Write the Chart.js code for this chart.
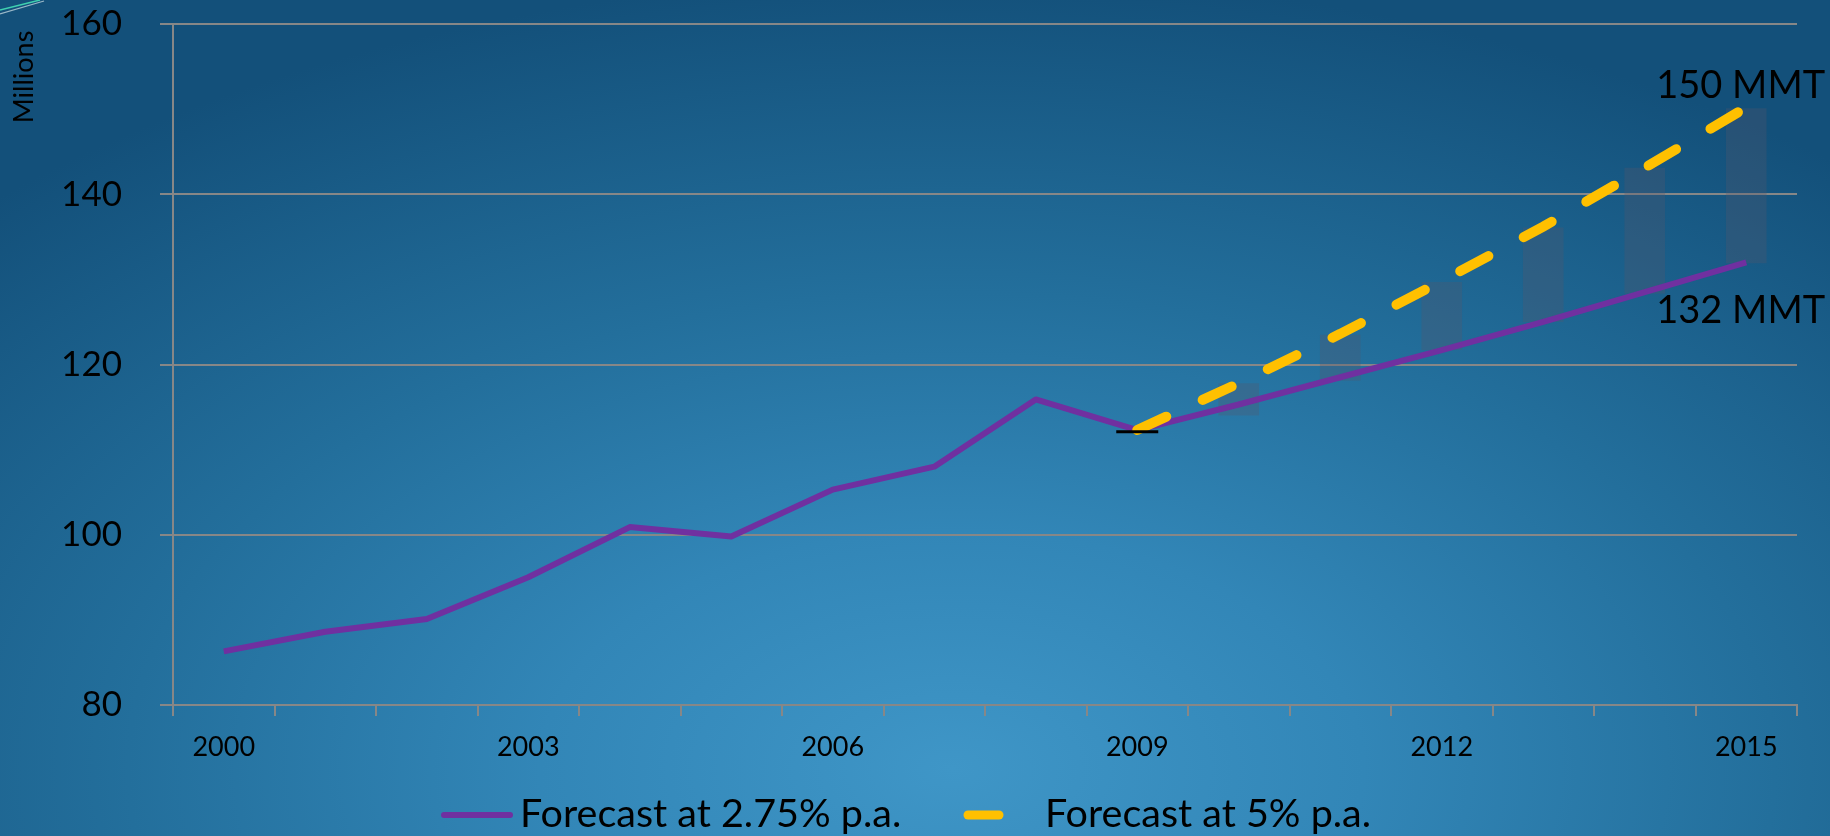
<!DOCTYPE html>
<html>
<head>
<meta charset="utf-8">
<script src="https://cdn.jsdelivr.net/npm/chart.js@4.4.1/dist/chart.umd.min.js"></script>
<style>
  html, body { margin: 0; padding: 0; }
  body {
    width: 1830px; height: 836px; overflow: hidden; position: relative;
    background: radial-gradient(ellipse 75% 95% at 52% 92%, #3f96c7 0%, #3286b7 30%, #236f9c 60%, #13507a 100%);
  }
  #c { position: absolute; left: 0; top: 0; }
  #deco { position: absolute; left: 0; top: 0; }
</style>
</head>
<body>
<svg id="deco" width="60" height="20">
  <line x1="0" y1="10" x2="40" y2="0" stroke="#3fd0b0" stroke-width="1.5"/>
  <line x1="0" y1="14" x2="44" y2="1" stroke="#9ab8c8" stroke-width="1.2"/>
</svg>
<canvas id="c" width="1830" height="836"></canvas>
<script>
// ---- data ----
const years = ['2000','2001','2002','2003','2004','2005','2006','2007','2008','2009','2010','2011','2012','2013','2014','2015'];
const forecastLow = [86.3, 88.6, 90.1, 95.0, 100.9, 99.8, 105.3, 108.0, 115.9, 112.3, 115.3, 118.5, 121.7, 125.0, 128.5, 132.0];
const forecastHigh = [null, null, null, null, null, null, null, null, null, 112.3, 117.8, 123.6, 129.8, 136.2, 143.1, 150.2];
const gapLow = [null, null, null, null, null, null, null, null, null, null, 114.0, 118.1, 121.7, 125.0, 128.3, 131.9];
const gapHigh = [null, null, null, null, null, null, null, null, null, null, 117.8, 123.5, 129.7, 136.1, 143.1, 150.1];
const baseMark = [null, null, null, null, null, null, null, null, null, 112.1, null, null, null, null, null, null];
const yMin = 80, yMax = 160, yStep = 20;
const labelEvery = 3;
const legendLabels = ['Forecast at 2.75% p.a.', 'Forecast at 5% p.a.'];
const endLabels = ['150 MMT', '132 MMT'];

const PURPLE = '#7030a0';
const GOLD = '#ffc000';
const GRID = '#878787';
const FONT = 'Lato';

const gapData = years.map((_, i) => gapLow[i] == null ? null : [gapLow[i], gapHigh[i]]);

const extrasPlugin = {
  id: 'extras',
  afterDraw(chart) {
    const ctx = chart.ctx;
    const xs = chart.scales.x, ys = chart.scales.y;
    ctx.save();
    ctx.fillStyle = '#000';
    // y-axis unit label
    ctx.save();
    ctx.translate(24, 77);
    ctx.rotate(-Math.PI / 2);
    ctx.font = '27px ' + FONT;
    ctx.textAlign = 'center';
    ctx.textBaseline = 'middle';
    ctx.fillText('Millions', 0, 0);
    ctx.restore();
    // end labels
    const xEnd = xs.getPixelForValue(years.length - 1);
    ctx.font = '38px ' + FONT;
    ctx.textAlign = 'left';
    ctx.textBaseline = 'middle';
    ctx.fillText(endLabels[0], xEnd - 90, ys.getPixelForValue(forecastHigh[forecastHigh.length - 1]) - 22);
    ctx.fillText(endLabels[1], xEnd - 90, ys.getPixelForValue(forecastLow[forecastLow.length - 1]) + 48);
    // legend
    const baseY = 827;
    ctx.lineCap = 'round';
    ctx.strokeStyle = PURPLE;
    ctx.lineWidth = 6;
    ctx.beginPath(); ctx.moveTo(444, 815); ctx.lineTo(510, 815); ctx.stroke();
    ctx.strokeStyle = GOLD;
    ctx.lineWidth = 9;
    ctx.beginPath(); ctx.moveTo(968, 815); ctx.lineTo(999, 815); ctx.stroke();
    ctx.font = '39.5px ' + FONT;
    ctx.textBaseline = 'alphabetic';
    ctx.fillText(legendLabels[0], 520, baseY);
    ctx.fillText(legendLabels[1], 1045, baseY);
    ctx.restore();
  }
};

function build() {
  Chart.defaults.font.family = FONT;
  Chart.defaults.color = '#000';
  new Chart(document.getElementById('c'), {
    type: 'bar',
    data: {
      labels: years,
      datasets: [
        {
          type: 'line', label: 'mark', data: baseMark, order: 0,
          showLine: false, pointStyle: 'line', pointRadius: 21,
          pointBorderColor: '#000', pointBorderWidth: 3, pointBackgroundColor: '#000'
        },
        {
          type: 'line', label: legendLabels[1], data: forecastHigh, order: 1,
          borderColor: GOLD, borderWidth: 10, borderDash: [32, 40], borderCapStyle: 'round',
          pointRadius: 0, tension: 0, fill: false
        },
        {
          type: 'line', label: legendLabels[0], data: forecastLow, order: 2,
          borderColor: PURPLE, borderWidth: 6, pointRadius: 0, tension: 0, fill: false,
          borderJoinStyle: 'round'
        },
        {
          type: 'bar', label: 'gap', data: gapData, order: 3,
          backgroundColor: 'rgba(85,85,105,0.30)', borderWidth: 0,
          barPercentage: 0.4, categoryPercentage: 1
        }
      ]
    },
    options: {
      responsive: false,
      animation: false,
      devicePixelRatio: 1,
      layout: { padding: { left: 0, right: 33, top: 23, bottom: 0 } },
      plugins: { legend: { display: false }, tooltip: { enabled: false }, title: { display: false } },
      scales: {
        x: {
          offset: true,
          afterFit(s) { s.height = 131; },
          grid: { display: true, drawOnChartArea: false, drawTicks: true, tickLength: 11, color: GRID, lineWidth: 2, offset: true },
          border: { display: true, color: GRID, width: 2 },
          ticks: {
            autoSkip: false, maxRotation: 0, padding: 15,
            font: { size: 27, family: FONT }, color: '#000',
            callback: (v, i) => (i % labelEvery === 0 ? years[i] : '')
          }
        },
        y: {
          min: yMin, max: yMax,
          afterFit(s) { s.width = 173; s.paddingTop = 0; s.paddingBottom = 0; },
          grid: { color: GRID, lineWidth: 2, tickLength: 13, drawTicks: true },
          border: { display: true, color: GRID, width: 2 },
          ticks: { stepSize: yStep, padding: 38, font: { size: 35, family: FONT }, color: '#000' }
        }
      }
    },
    plugins: [extrasPlugin]
  });
}

if (document.fonts && document.fonts.load) {
  Promise.all([document.fonts.load('27px Lato'), document.fonts.load('38px Lato')]).then(build, build);
} else { build(); }
</script>
</body>
</html>
